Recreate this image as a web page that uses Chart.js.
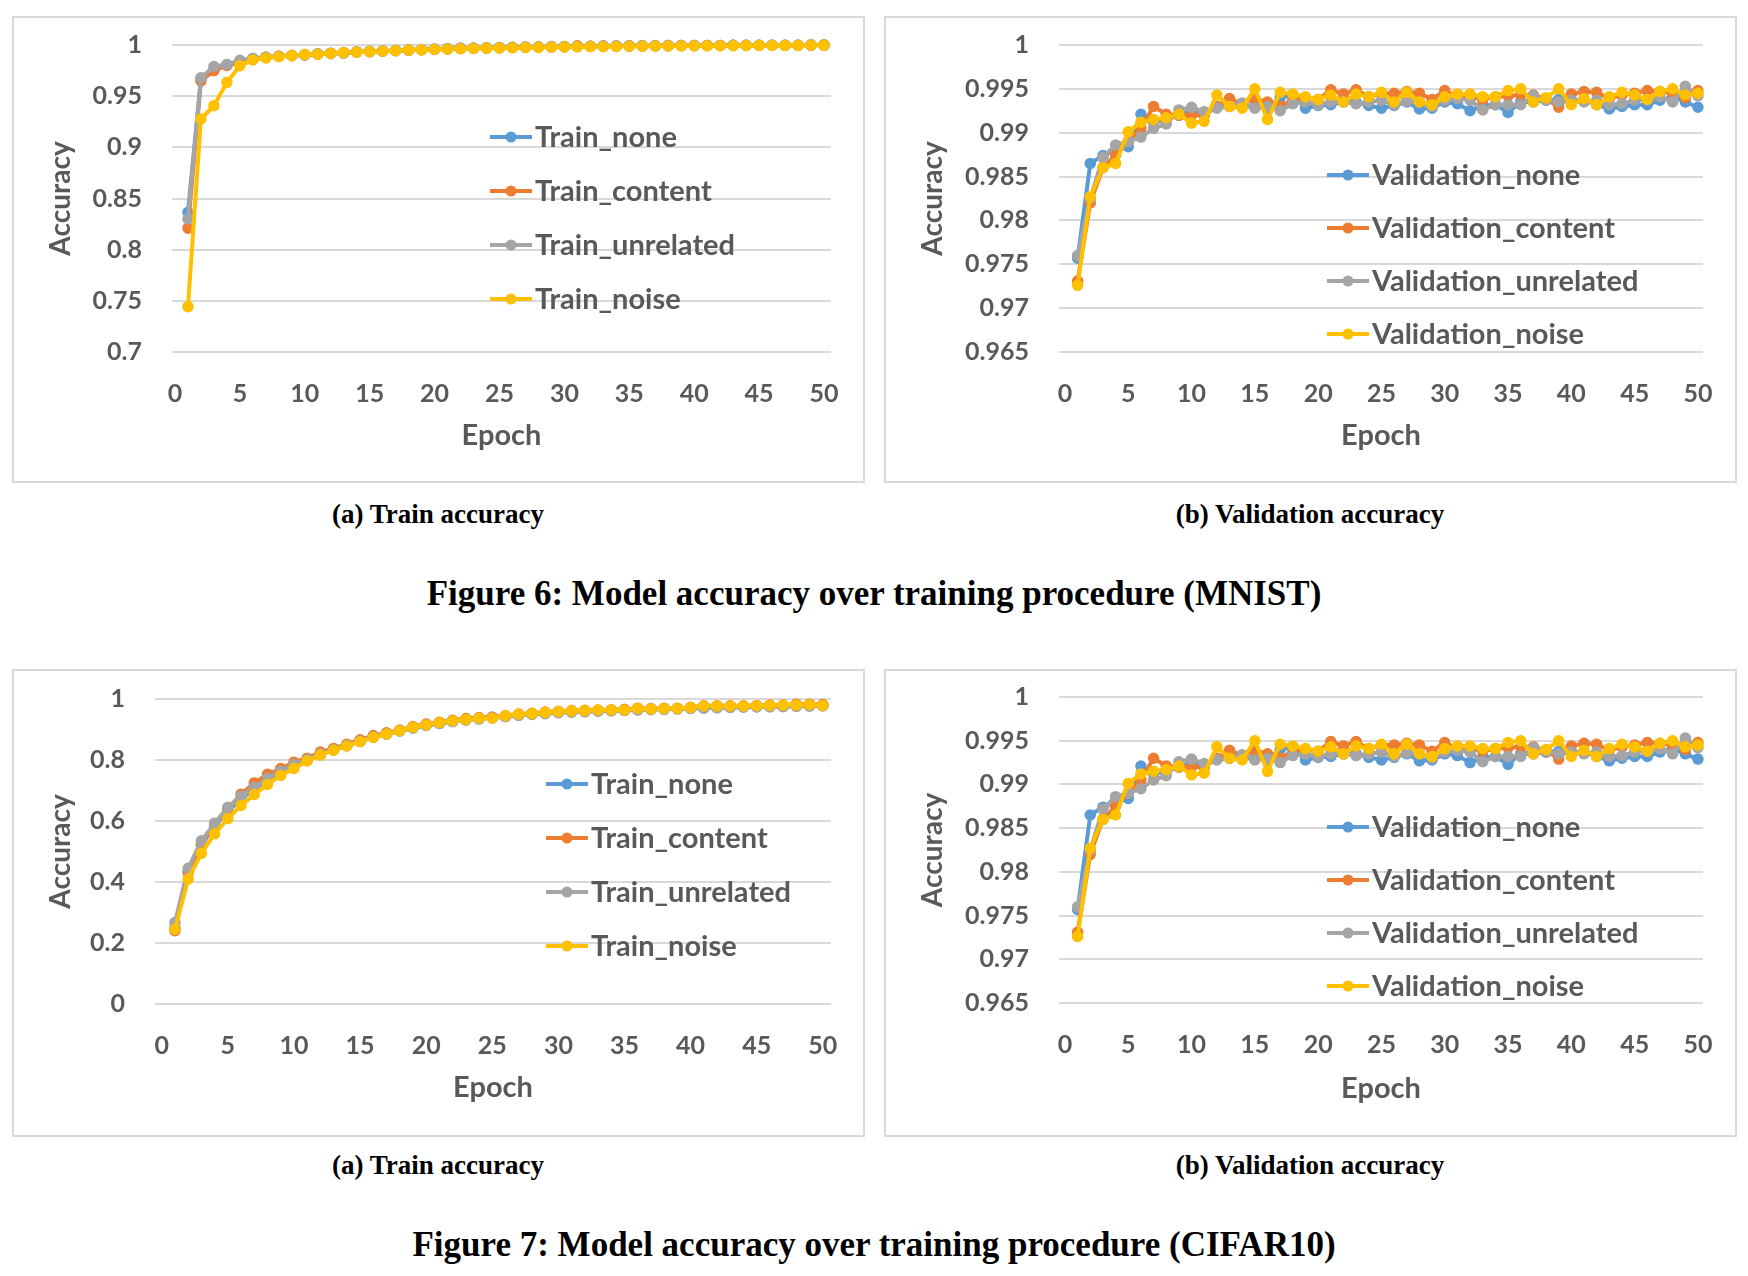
<!DOCTYPE html>
<html>
<head>
<meta charset="utf-8">
<script src="https://cdn.jsdelivr.net/npm/chart.js@4.4.1/dist/chart.umd.min.js"></script>
<style>
  body { margin: 0; background: #fff; width: 1748px; height: 1276px; position: relative; overflow: hidden; }
  .panel { position: absolute; border: 2px solid #D9D9D9; }
  .panel canvas { display: block; }
  .cap { position: absolute; transform: translate(-50%, -50%); white-space: nowrap;
         font-family: "Liberation Serif", serif; font-weight: bold; color: #000; }
  .sub { font-size: 27px; }
  .fig { font-size: 35px; }
</style>
</head>
<body>
<div class="panel" style="left:12px;top:16px;"><canvas id="mnistTrain" width="849" height="463"></canvas></div>
<div class="panel" style="left:884px;top:16px;"><canvas id="mnistVal" width="849" height="463"></canvas></div>
<div class="panel" style="left:12px;top:669px;"><canvas id="cifarTrain" width="849" height="464"></canvas></div>
<div class="panel" style="left:884px;top:669px;"><canvas id="cifarVal" width="849" height="464"></canvas></div>

<div class="cap sub" style="left:438px;top:514px;">(a) Train accuracy</div>
<div class="cap sub" style="left:1310px;top:514px;">(b) Validation accuracy</div>
<div class="cap fig" style="left:874px;top:594px;">Figure 6: Model accuracy over training procedure (MNIST)</div>
<div class="cap sub" style="left:438px;top:1165px;">(a) Train accuracy</div>
<div class="cap sub" style="left:1310px;top:1165px;">(b) Validation accuracy</div>
<div class="cap fig" style="left:874px;top:1245px;">Figure 7: Model accuracy over training procedure (CIFAR10)</div>

<script>
// ---- data ----
const epochs = [1,2,3,4,5,6,7,8,9,10,11,12,13,14,15,16,17,18,19,20,21,22,23,24,25,
                26,27,28,29,30,31,32,33,34,35,36,37,38,39,40,41,42,43,44,45,46,47,48,49,50];
const xTicks = [0,5,10,15,20,25,30,35,40,45,50];
const yTicksTrainMnist = [0.7,0.75,0.8,0.85,0.9,0.95,1];
const yTicksVal = [0.965,0.97,0.975,0.98,0.985,0.99,0.995,1];
const yTicksTrainCifar = [0,0.2,0.4,0.6,0.8,1];

const trainSeries = ['Train_none','Train_content','Train_unrelated','Train_noise'];
const valSeries = ['Validation_none','Validation_content','Validation_unrelated','Validation_noise'];
const colors = ['#5B9BD5','#ED7D31','#A5A5A5','#FFC000'];

// MNIST train
const mnistTrainNone = [0.8365,0.967,0.976,0.981,0.984,0.9865,0.988,0.989,0.9895,0.990,0.9915,0.9915,0.992,0.993,0.9935,0.994,0.9945,0.995,0.9955,0.996,
  0.9965,0.997,0.997,0.9972,0.9975,0.9977,0.998,0.998,0.9982,0.9985,0.9987,0.9988,0.999,0.999,0.9992,0.9992,0.9993,0.9994,0.9995,0.9995,
  0.9996,0.9996,0.9997,0.9997,0.9997,0.9998,0.9998,0.9998,0.9999,0.9999];
const mnistTrainContent = [0.821,0.965,0.975,0.980,0.983,0.986,0.988,0.989,0.990,0.9905,0.991,0.992,0.9925,0.9935,0.994,0.9942,0.9946,0.995,0.9954,0.9958,
  0.9962,0.9966,0.9968,0.997,0.9973,0.9976,0.9978,0.998,0.9982,0.9984,0.9992,0.9988,0.999,0.999,0.9991,0.9992,0.9993,0.9994,0.9994,0.9995,
  0.9996,0.9996,0.9997,0.9997,0.9997,0.9998,0.9998,0.9998,0.9999,0.9999];
const mnistTrainUnrelated = [0.830,0.968,0.979,0.981,0.985,0.987,0.988,0.989,0.9898,0.9905,0.9912,0.992,0.9926,0.9932,0.9938,0.9942,0.9946,0.995,0.9955,0.9959,
  0.9963,0.9966,0.9969,0.9972,0.9974,0.9976,0.9978,0.998,0.9982,0.9984,0.9986,0.9988,0.9992,0.9993,0.9993,0.9994,0.9994,0.9994,0.9995,0.9995,
  0.9996,0.9996,0.9997,0.9997,0.9997,0.9998,0.9998,0.9998,0.9999,0.9999];
const mnistTrainNoise = [0.7443,0.9277,0.9407,0.9635,0.9798,0.9853,0.9873,0.9886,0.9896,0.9906,0.991,0.9918,0.9925,0.993,0.9935,0.994,0.9945,0.995,0.9953,0.9957,
  0.996,0.9963,0.9966,0.9968,0.997,0.9973,0.9975,0.9977,0.9979,0.998,0.9982,0.9983,0.9984,0.9985,0.9987,0.9988,0.9989,0.999,0.999,0.9991,
  0.9992,0.9993,0.9993,0.9994,0.9995,0.9995,0.9996,0.9996,0.9997,0.9997];

// validation (same curves shown under both figures)
const valNone = [0.9757,0.9865,0.9874,0.9880,0.9884,0.9921,0.9912,0.9915,0.9920,0.9925,0.9920,0.9930,0.9930,0.9930,0.9930,0.9928,0.9940,0.9943,0.9928,0.9931,
  0.9932,0.9935,0.9935,0.9931,0.9928,0.9931,0.9935,0.9927,0.9928,0.9935,0.9933,0.9925,0.9931,0.9932,0.9923,0.9935,0.9935,0.9937,0.9938,0.9937,
  0.9937,0.9932,0.9927,0.9930,0.9932,0.9932,0.9937,0.9941,0.9935,0.9929];
const valContent = [0.9731,0.9820,0.9860,0.9875,0.9890,0.9905,0.9930,0.9921,0.9920,0.9920,0.9920,0.9930,0.9939,0.9933,0.9939,0.9935,0.9930,0.9938,0.9940,0.9938,
  0.9949,0.9944,0.9949,0.9941,0.9945,0.9945,0.9947,0.9945,0.9938,0.9948,0.9941,0.9941,0.9938,0.9941,0.9942,0.9943,0.9943,0.9939,0.9929,0.9944,
  0.9947,0.9946,0.9939,0.9943,0.9945,0.9948,0.9947,0.9945,0.9940,0.9948];
const valUnrelated = [0.9760,0.9825,0.9872,0.9886,0.9890,0.9895,0.9905,0.9910,0.9926,0.9929,0.9924,0.9928,0.9930,0.9934,0.9928,0.9930,0.9925,0.9933,0.9935,0.9932,
  0.9935,0.9935,0.9933,0.9935,0.9937,0.9932,0.9936,0.9935,0.9930,0.9937,0.9939,0.9937,0.9926,0.9932,0.9932,0.9932,0.9942,0.9937,0.9935,0.9937,
  0.9935,0.9937,0.9932,0.9933,0.9937,0.9938,0.9941,0.9935,0.9953,0.9942];
const valNoise = [0.9726,0.9827,0.9860,0.9865,0.9901,0.9912,0.9915,0.9917,0.9921,0.9911,0.9913,0.9943,0.9930,0.9928,0.9950,0.9915,0.9946,0.9944,0.9941,0.9938,
  0.9943,0.9935,0.9944,0.9941,0.9946,0.9935,0.9946,0.9935,0.9932,0.9941,0.9944,0.9944,0.9941,0.9941,0.9948,0.9950,0.9935,0.9940,0.9950,0.9932,
  0.9939,0.9932,0.9941,0.9946,0.9943,0.9938,0.9947,0.9950,0.9943,0.9945];

// CIFAR10 train
const cifarTrainNone = [0.250,0.435,0.520,0.585,0.632,0.672,0.705,0.735,0.760,0.782,0.800,0.818,0.833,0.847,0.861,0.875,0.885,0.895,0.905,0.913,
  0.920,0.926,0.931,0.935,0.939,0.943,0.947,0.950,0.953,0.956,0.958,0.960,0.961,0.962,0.963,0.965,0.966,0.967,0.968,0.970,
  0.971,0.972,0.973,0.974,0.975,0.975,0.976,0.977,0.977,0.978];
const cifarTrainContent = [0.240,0.430,0.525,0.590,0.640,0.688,0.725,0.753,0.772,0.793,0.806,0.826,0.838,0.852,0.866,0.880,0.889,0.898,0.910,0.918,
  0.924,0.930,0.936,0.939,0.941,0.946,0.951,0.953,0.957,0.960,0.962,0.963,0.964,0.965,0.966,0.970,0.969,0.970,0.970,0.973,
  0.978,0.978,0.978,0.978,0.979,0.980,0.980,0.983,0.983,0.982];
const cifarTrainUnrelated = [0.267,0.445,0.535,0.593,0.645,0.681,0.711,0.740,0.764,0.786,0.802,0.820,0.834,0.848,0.862,0.876,0.886,0.895,0.905,0.914,
  0.920,0.926,0.931,0.935,0.938,0.942,0.946,0.949,0.952,0.955,0.957,0.958,0.960,0.961,0.962,0.964,0.965,0.966,0.967,0.969,
  0.970,0.971,0.972,0.973,0.974,0.975,0.975,0.976,0.977,0.977];
const cifarTrainNoise = [0.245,0.409,0.494,0.558,0.608,0.651,0.687,0.720,0.749,0.772,0.797,0.816,0.832,0.846,0.860,0.874,0.885,0.896,0.907,0.915,
  0.922,0.928,0.933,0.937,0.937,0.945,0.950,0.952,0.956,0.959,0.961,0.962,0.964,0.964,0.964,0.969,0.967,0.969,0.969,0.972,
  0.977,0.977,0.977,0.977,0.978,0.979,0.980,0.980,0.981,0.979];

// ---- chart setup ----
Chart.defaults.font.family = 'Lato';
Chart.defaults.font.weight = 'bold';
Chart.defaults.color = '#595959';

// legend drawn inside the plot area, like the spreadsheet original
const insideLegend = {
  id: 'insideLegend',
  afterDraw(chart, args, opts) {
    const ctx = chart.ctx, area = chart.chartArea;
    ctx.save();
    ctx.font = 'bold 29px Lato';
    ctx.textBaseline = 'middle';
    chart.data.datasets.forEach(function(ds, i) {
      const x = area.left + opts.dx;
      const y = area.top + opts.dy + i * opts.gap;
      ctx.strokeStyle = ds.borderColor;
      ctx.lineWidth = 4;
      ctx.beginPath(); ctx.moveTo(x, y); ctx.lineTo(x + 42, y); ctx.stroke();
      ctx.fillStyle = ds.borderColor;
      ctx.beginPath(); ctx.arc(x + 21, y, 5.5, 0, Math.PI * 2); ctx.fill();
      ctx.fillStyle = '#595959';
      ctx.fillText(ds.label, x + 45, y + 1);
    });
    ctx.restore();
  }
};

function makeChart(id, names, values, yTicks, geo) {
  const canvas = document.getElementById(id);
  const datasets = names.map(function(name, i) {
    return {
      label: name,
      data: epochs.map(function(e, j) { return {x: e, y: values[i][j]}; }),
      borderColor: colors[i],
      backgroundColor: colors[i],
      pointBackgroundColor: colors[i],
      pointBorderColor: colors[i],
      borderWidth: 4,
      pointRadius: 5,
      pointBorderWidth: 1.5,
      tension: 0,
      clip: false,
      order: names.length - 1 - i
    };
  });
  return new Chart(canvas, {
    type: 'line',
    data: { datasets: datasets },
    plugins: [insideLegend],
    options: {
      responsive: false,
      animation: false,
      devicePixelRatio: 1,
      layout: { autoPadding: false,
                padding: { left: 0, top: geo.top, right: canvas.width - geo.right, bottom: 0 } },
      plugins: {
        legend: { display: false },
        tooltip: { enabled: false },
        insideLegend: geo.legend
      },
      scales: {
        x: {
          type: 'linear',
          min: geo.xMin, max: geo.xMax,
          grid: { display: false, drawTicks: false },
          border: { display: false },
          afterBuildTicks: function(s) { s.ticks = xTicks.map(function(v) { return {value: v}; }); },
          afterFit: function(s) {
            s.height = canvas.height - geo.bottom;
            s.paddingLeft = 0; s.paddingRight = 0;
          },
          ticks: { padding: 27, font: { size: 25, weight: 'bold' }, color: '#595959' },
          title: { display: true, text: 'Epoch', color: '#595959',
                   font: { size: 29, weight: 'bold' }, padding: { top: 0, bottom: geo.titleBottom } }
        },
        y: {
          min: yTicks[0], max: yTicks[yTicks.length - 1],
          grid: { color: '#D9D9D9', lineWidth: 2, drawTicks: false },
          border: { display: false },
          afterBuildTicks: function(s) { s.ticks = yTicks.map(function(v) { return {value: v}; }); },
          afterFit: function(s) {
            s.width = geo.left;
            s.paddingTop = 0; s.paddingBottom = 0;
          },
          ticks: { padding: 30, font: { size: 25, weight: 'bold' }, color: '#595959',
                   callback: function(v) { return String(v); } },
          title: { display: true, text: 'Accuracy', color: '#595959',
                   font: { size: 28, weight: 'bold' }, padding: { top: 30, bottom: 0 } }
        }
      }
    }
  });
}

makeChart('mnistTrain', trainSeries,
  [mnistTrainNone, mnistTrainContent, mnistTrainUnrelated, mnistTrainNoise], yTicksTrainMnist,
  { left: 158, right: 817, top: 27, bottom: 334, xMin: -0.23, xMax: 50.54, titleBottom: 28,
    legend: { dx: 318, dy: 92, gap: 54 } });

makeChart('mnistVal', valSeries,
  [valNone, valContent, valUnrelated, valNoise], yTicksVal,
  { left: 173, right: 817, top: 27, bottom: 334, xMin: -0.47, xMax: 50.4, titleBottom: 28,
    legend: { dx: 268, dy: 130, gap: 53 } });

makeChart('cifarTrain', trainSeries,
  [cifarTrainNone, cifarTrainContent, cifarTrainUnrelated, cifarTrainNoise], yTicksTrainCifar,
  { left: 141, right: 817, top: 28, bottom: 333, xMin: -0.51, xMax: 50.62, titleBottom: 30,
    legend: { dx: 391, dy: 85, gap: 54 } });

makeChart('cifarVal', valSeries,
  [valNone, valContent, valUnrelated, valNoise], yTicksVal,
  { left: 173, right: 817, top: 26, bottom: 332, xMin: -0.47, xMax: 50.4, titleBottom: 29,
    legend: { dx: 268, dy: 130, gap: 53 } });
</script>
</body>
</html>
